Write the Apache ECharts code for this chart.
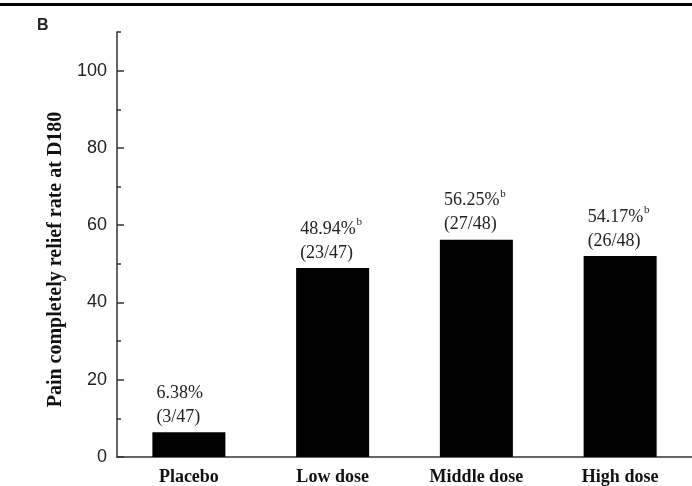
<!DOCTYPE html>
<html>
<head>
<meta charset="utf-8">
<script src="https://cdn.jsdelivr.net/npm/echarts@6/dist/echarts.min.js"></script>
<style>
  html, body { margin: 0; padding: 0; background: #fff; }
  #chart { width: 692px; height: 486px; }
</style>
</head>
<body>
<div id="chart"></div>
<script>
// groups on the x axis
var groups = ['Placebo', 'Low dose', 'Middle dose', 'High dose'];
// bar heights as drawn in the figure (%)
var rates = [6.38, 48.94, 56.25, 52.0];
// printed labels above each bar
var rateTexts = ['6.38%', '48.94%', '56.25%', '54.17%'];
var countTexts = ['(3/47)', '(23/47)', '(27/48)', '(26/48)'];
var marked = [false, true, true, true];
// y axis ticks
var majorTicks = [0, 20, 40, 60, 80, 100];
var minorTicks = [10, 30, 50, 70, 90, 110];

var chart = echarts.init(document.getElementById('chart'));

var barData = [];
for (var i = 0; i < rates.length; i++) {
    barData.push({
        value : rates[i],
        label : {
            formatter : '{v|' + rateTexts[i] + '}' + (marked[i] ? '{s|b}' : '') + '\n{v|' + countTexts[i] + '}'
        }
    });
}

var axisColor = '#333';

var option = {
    backgroundColor : '#fff',
    animation : false,
    grid : {
        left : 117,
        right : -4,
        top : 32,
        bottom : 28
    },
    xAxis : {
        type : 'category',
        data : groups,
        axisLine : { lineStyle : { color : axisColor, width : 1.5 } },
        axisTick : { show : false },
        axisLabel : {
            margin : 11,
            fontFamily : 'Liberation Serif',
            fontWeight : 'bold',
            fontSize : 18,
            color : '#111'
        }
    },
    yAxis : [ {
        type : 'value',
        min : 0,
        max : 110,
        interval : 10,
        name : 'Pain completely relief rate at D180',
        nameLocation : 'middle',
        nameGap : 51,
        nameTextStyle : {
            fontFamily : 'Liberation Serif',
            fontWeight : 'bold',
            fontSize : 20,
            color : '#111',
            padding : [0, 30, 0, 0]
        },
        splitLine : { show : false },
        axisLine : { show : true, lineStyle : { color : axisColor, width : 1.5 } },
        axisTick : {
            show : true,
            inside : true,
            length : 7,
            customValues : majorTicks,
            lineStyle : { color : axisColor, width : 1.5 }
        },
        axisLabel : {
            customValues : majorTicks,
            margin : 10,
            fontFamily : 'Liberation Sans',
            fontSize : 18,
            color : '#222'
        }
    }, {
        type : 'value',
        position : 'left',
        min : 0,
        max : 110,
        interval : 10,
        splitLine : { show : false },
        axisLine : { show : false },
        axisLabel : { show : false },
        axisTick : {
            show : true,
            inside : true,
            length : 4,
            customValues : minorTicks,
            lineStyle : { color : axisColor, width : 1.5 }
        }
    } ],
    series : [ {
        type : 'bar',
        data : barData,
        barWidth : 73,
        itemStyle : { color : '#000' },
        label : {
            show : true,
            position : [4, -3],
            align : 'left',
            verticalAlign : 'bottom',
            rich : {
                v : {
                    fontFamily : 'Liberation Serif',
                    fontSize : 18,
                    lineHeight : 24,
                    color : '#222'
                },
                s : {
                    fontFamily : 'Liberation Serif',
                    fontSize : 11,
                    lineHeight : 24,
                    color : '#222',
                    padding : [0, 0, 14, 1]
                }
            }
        }
    } ],
    graphic : [ {
        type : 'rect',
        shape : { x : 0, y : 3, width : 692, height : 3 },
        style : { fill : '#000' }
    }, {
        type : 'text',
        left : 37,
        top : 18,
        style : {
            text : 'B',
            fontFamily : 'Liberation Sans',
            fontWeight : 'bold',
            fontSize : 16,
            fill : '#222'
        }
    } ]
};

chart.setOption(option);
</script>
</body>
</html>
